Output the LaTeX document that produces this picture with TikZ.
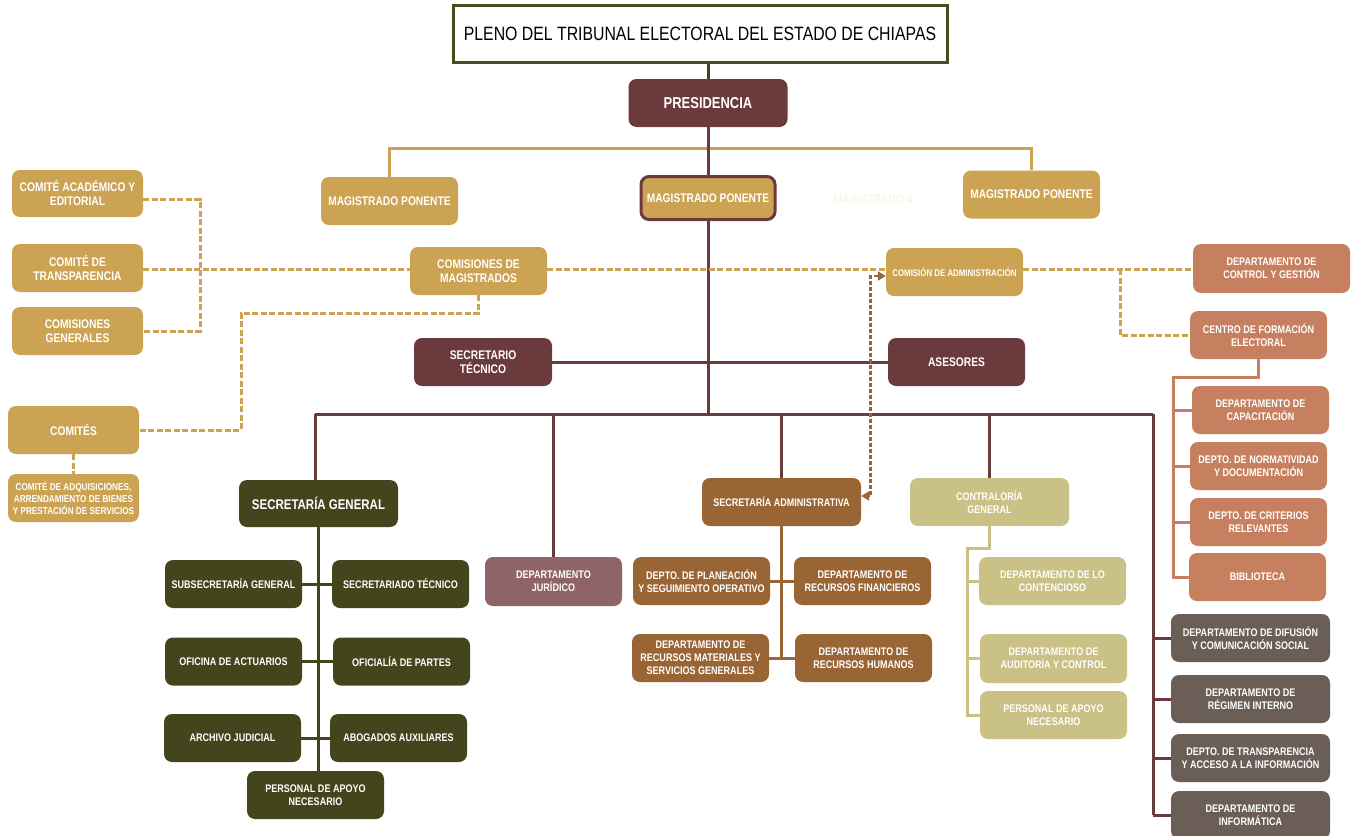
\documentclass[tikz,border=0pt]{standalone}
\usepackage{fontspec}
\newfontfamily\nf{Liberation Sans}[FakeStretch=0.82]
\usetikzlibrary{arrows.meta}
\definecolor{cmaroon}{HTML}{6B3A3D}
\definecolor{cgold}{HTML}{CBA352}
\definecolor{colive}{HTML}{45451D}
\definecolor{ctitle}{HTML}{4B4B22}
\definecolor{cbrown}{HTML}{9A6535}
\definecolor{cmauve}{HTML}{8F6466}
\definecolor{ckhaki}{HTML}{C9C185}
\definecolor{corange}{HTML}{C6805F}
\definecolor{cgray}{HTML}{6A5E57}
\definecolor{cfaint}{HTML}{FAF5EA}
\newcommand\fsA{\nf\bfseries\fontsize{12.5}{14}\selectfont}
\newcommand\fsB{\nf\bfseries\fontsize{11}{13}\selectfont}
\newcommand\fsC{\nf\bfseries\fontsize{9.6}{11}\selectfont}
\newcommand\fsD{\nf\bfseries\fontsize{10}{12}\selectfont}
\newcommand\fsE{\nf\bfseries\fontsize{14}{16}\selectfont}
\tikzset{
  bx/.style={rounded corners=8pt, minimum width=137pt, minimum height=48pt,
    text=white, align=center, inner sep=1pt, font=\fsB},
  bgold/.style={bx, fill=cgold, font=\fsA},
  bmaroon/.style={bx, fill=cmaroon, font=\fsA},
  bolive/.style={bx, fill=colive},
  bbrown/.style={bx, fill=cbrown},
  bmauve/.style={bx, fill=cmauve},
  bkhaki/.style={bx, fill=ckhaki},
  borange/.style={bx, fill=corange},
  bgray/.style={bx, fill=cgray, minimum width=159pt},
  ln/.style={line width=3pt},
  lmaroon/.style={ln, draw=cmaroon},
  lgold/.style={ln, draw=cgold},
  lolive/.style={ln, draw=colive},
  lbrown/.style={ln, draw=cbrown},
  lkhaki/.style={ln, draw=ckhaki},
  lorange/.style={ln, draw=corange},
  dgold/.style={line width=3pt, draw=cgold, dash pattern=on 6pt off 2.5pt},
  darrow/.style={line width=2.8pt, draw=cbrown, dash pattern=on 4pt off 2pt,
    {Triangle[length=8pt,width=9pt,fill=cbrown]}-{Triangle[length=8pt,width=9pt,fill=cbrown]}}
}
\begin{document}
\begin{tikzpicture}[x=1pt,y=-1pt]
\clip (0,0) rectangle (1351,835);
\fill[white] (0,0) rectangle (1351,835);

% title and top
\node[draw=ctitle, line width=3pt, fill=white, minimum width=494pt, minimum height=57pt,
  font=\nf\fontsize{19.3}{21}\selectfont, text=black, inner sep=0pt] (title) at (700,33.5)
  {PLENO DEL TRIBUNAL ELECTORAL DEL ESTADO DE CHIAPAS};
\node[bmaroon, minimum width=159pt, font=\nf\bfseries\fontsize{15.8}{18}\selectfont] (pres) at (708,103) {PRESIDENCIA};

\node[bgold] (mp1) at (389.5,201) {MAGISTRADO PONENTE};
\node[bgold, draw=cmaroon, line width=3pt, minimum width=134pt, minimum height=43pt] (mp2) at (708,198) {MAGISTRADO PONENTE};
\node[bgold] (mp3) at (1031.5,194.5) {MAGISTRADO PONENTE};
\node[text=cfaint, font=\fsA] (mag4) at (873,199) {MAGISTRADO 4};

% left gold column
\node[bgold, minimum width=131pt, minimum height=47pt] (cae) at (77.5,193.5) {COMITÉ ACADÉMICO Y\\EDITORIAL};
\node[bgold, minimum width=131pt] (ctr) at (77.5,268) {COMITÉ DE\\TRANSPARENCIA};
\node[bgold, minimum width=131pt] (cgen) at (77.5,331) {COMISIONES\\GENERALES};
\node[bgold, minimum width=131pt] (comites) at (73.5,430) {COMITÉS};
\node[bgold, minimum width=131pt, font=\fsD] (cadq) at (73.5,498) {COMITÉ DE ADQUISICIONES,\\ARRENDAMIENTO DE BIENES\\Y PRESTACIÓN DE SERVICIOS};

\node[bgold] (cmag) at (478.5,271) {COMISIONES DE\\MAGISTRADOS};
\node[bgold, font=\fsC] (cadm) at (954.5,272) {COMISIÓN DE ADMINISTRACIÓN};
\node[borange, minimum width=157pt, minimum height=49pt] (dcg) at (1271.5,268.5) {DEPARTAMENTO DE\\CONTROL Y GESTIÓN};
\node[borange] (cfe) at (1258.5,335) {CENTRO DE FORMACIÓN\\ELECTORAL};

\node[bmaroon, minimum width=138pt] (sect) at (483,362) {SECRETARIO\\TÉCNICO};
\node[bmaroon] (ases) at (956.5,362) {ASESORES};

% secretaria general
\node[bolive, minimum width=159pt, minimum height=47pt, font=\fsE] (sg) at (318.5,503.5) {SECRETARÍA GENERAL};
\node[bolive] (sub) at (233.5,584) {SUBSECRETARÍA GENERAL};
\node[bolive] (stec) at (400.5,584) {SECRETARIADO TÉCNICO};
\node[bolive] (oact) at (233.5,661.5) {OFICINA DE ACTUARIOS};
\node[bolive] (opart) at (401.5,661.5) {OFICIALÍA DE PARTES};
\node[bolive] (archivo) at (232.5,738) {ARCHIVO JUDICIAL};
\node[bolive] (abog) at (398.5,738) {ABOGADOS AUXILIARES};
\node[bolive] (papoyo1) at (315.5,795) {PERSONAL DE APOYO\\NECESARIO};

\node[bmauve, minimum height=49pt] (djur) at (553.5,581.5) {DEPARTAMENTO\\JURÍDICO};

% secretaria administrativa
\node[bbrown, minimum width=159pt] (sa) at (781.5,502) {SECRETARÍA ADMINISTRATIVA};
\node[bbrown] (dplan) at (701.5,581) {DEPTO. DE PLANEACIÓN\\Y SEGUIMIENTO OPERATIVO};
\node[bbrown] (drf) at (862.5,581) {DEPARTAMENTO DE\\RECURSOS FINANCIEROS};
\node[bbrown] (drm) at (700.5,658) {DEPARTAMENTO DE\\RECURSOS MATERIALES Y\\SERVICIOS GENERALES};
\node[bbrown] (drh) at (863.5,658) {DEPARTAMENTO DE\\RECURSOS HUMANOS};

% contraloria
\node[bkhaki, minimum width=159pt] (cg) at (989.5,502) {CONTRALORÍA\\GENERAL};
\node[bkhaki, minimum width=147pt] (dlc) at (1052.5,581) {DEPARTAMENTO DE LO\\CONTENCIOSO};
\node[bkhaki, minimum width=147pt, minimum height=49pt] (dac) at (1053.5,658.5) {DEPARTAMENTO DE\\AUDITORÍA Y CONTROL};
\node[bkhaki, minimum width=147pt] (papoyo2) at (1053.5,715) {PERSONAL DE APOYO\\NECESARIO};

% orange column
\node[borange] (dcap) at (1260.5,410) {DEPARTAMENTO DE\\CAPACITACIÓN};
\node[borange] (dnorm) at (1258.5,466) {DEPTO. DE NORMATIVIDAD\\Y DOCUMENTACIÓN};
\node[borange] (dcrit) at (1258.5,522) {DEPTO. DE CRITERIOS\\RELEVANTES};
\node[borange] (bibl) at (1257.5,577) {BIBLIOTECA};

% gray column
\node[bgray] (ddif) at (1250.5,638) {DEPARTAMENTO DE DIFUSIÓN\\Y COMUNICACIÓN SOCIAL};
\node[bgray] (dreg) at (1250.5,699) {DEPARTAMENTO DE\\RÉGIMEN INTERNO};
\node[bgray] (dtra) at (1250.5,758) {DEPTO. DE TRANSPARENCIA\\Y ACCESO A LA INFORMACIÓN};
\node[bgray] (dinf) at (1250.5,815) {DEPARTAMENTO DE\\INFORMÁTICA};

% coordinates
\coordinate (gbar) at (708,148);
\coordinate (barL) at (315,414);
\coordinate (barR) at (1153,414);
\coordinate (dy) at (0,269);
\coordinate (bxr) at (1120,269);
\coordinate (lx) at (200,0);
\coordinate (k1) at (241,313);
\coordinate (kv) at (967,548);
\coordinate (ov) at (1173,377);

% connectors (solid)
\draw[lolive] (pres.north |- title.south) -- (pres.north);
\draw[lgold] (mp1.north) |- (gbar) -| (mp3.north);
\draw[lmaroon] (pres.south) -- (mp2.north);
\draw[lmaroon] (mp2.south) -- (mp2.south |- barL);
\draw[lmaroon] (sect.east) -- (ases.west);
\draw[lmaroon] (barL) -- (barR);
\draw[lmaroon] (barL) -- (barL |- sg.north);
\draw[lmaroon] (djur.north |- barL) -- (djur.north);
\draw[lmaroon] (sa.north |- barL) -- (sa.north);
\draw[lmaroon] (cg.north |- barL) -- (cg.north);
\draw[lmaroon] (barR) -- (barR |- dinf.west);
\foreach \n in {ddif,dreg,dtra,dinf} \draw[lmaroon] (barR |- \n.west) -- (\n.west);

\draw[lolive] (sg.south) -- (sg.south |- papoyo1.north);
\draw[lolive] (sub.east) -- (stec.west);
\draw[lolive] (oact.east) -- (opart.west);
\draw[lolive] (archivo.east) -- (abog.west);

\draw[lbrown] (sa.south) -- (sa.south |- drm.east);
\draw[lbrown] (dplan.east) -- (drf.west);
\draw[lbrown] (drm.east) -- (drh.west);

\draw[lkhaki] (cg.south) |- (kv) -- (kv |- papoyo2.west) -- (papoyo2.west);
\draw[lkhaki] (kv |- dlc.west) -- (dlc.west);
\draw[lkhaki] (kv |- dac.west) -- (dac.west);

\draw[lorange] (cfe.south) |- (ov) -- (ov |- bibl.west) -- (bibl.west);
\foreach \n in {dcap,dnorm,dcrit} \draw[lorange] (ov |- \n.west) -- (\n.west);

% dashed connectors
\draw[dgold] ([yshift=-6pt]cae.east) -| (lx |- cgen.east) -- (cgen.east);
\draw[dgold] (ctr.east |- dy) -- (cmag.west |- dy);
\draw[dgold] (cmag.east |- dy) -- (cadm.west |- dy);
\draw[dgold] (cadm.east |- dy) -- (dcg.west |- dy);
\draw[dgold] (bxr) |- (cfe.west);
\draw[dgold] (cmag.south) |- (k1) |- (comites.east);
\draw[dgold] (comites.south) -- (cadq.north);
\draw[darrow] ([yshift=-4pt]cadm.west) -- ++(-15,0) |- ([yshift=6pt]sa.east);
\end{tikzpicture}
\end{document}
